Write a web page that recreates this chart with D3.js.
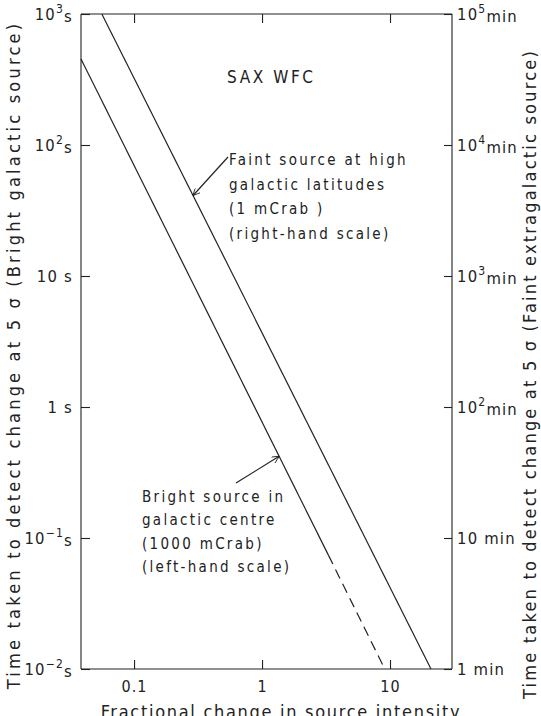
<!DOCTYPE html>
<html lang="en">
<meta charset="utf-8">
<style>
    html, body {
        margin: 0;
        padding: 0;
        background: #fff;
    }
    svg { display: block; }
    text {
        font-family: "DejaVu Sans Condensed", "DejaVu Sans", sans-serif;
        fill: #222;
    }
    .axis .domain, .axis .tick line {
        stroke: #222;
        stroke-width: 1.1px;
    }
    .curve {
        fill: none;
        stroke: #222;
        stroke-width: 1.2px;
    }
</style>
<body>
<svg id="svg" width="541" height="716"></svg>
<script src="https://cdn.jsdelivr.net/npm/d3@7/dist/d3.min.js"></script>
<script>
// fractional change in source intensity
var xTicks = [0.1, 1, 10];
var xTickLabels = ["0.1", "1", "10"];

// left-hand scale, seconds (bright galactic source)
var leftTicks = [1e-2, 1e-1, 1, 10, 1e2, 1e3];
var leftBase  = ["10", "10", "1", "10", "10", "10"];
var leftExp   = ["\u22122", "\u22121", "", "", "2", "3"];

// right-hand scale, minutes (faint extragalactic source)
var rightTicks = [1, 10, 1e2, 1e3, 1e4, 1e5];
var rightBase  = ["1", "10", "10", "10", "10", "10"];
var rightExp   = ["", "", "2", "3", "4", "5"];

// faint source at high galactic latitudes, right-hand scale (min)
var faintX = [0.056, 20.9];
var faintT = [1e5, 1];

// bright source in galactic centre, left-hand scale (s): solid, then dashed
var brightX = [0.0385, 3.3];
var brightT = [454, 0.074];
var brightDashX = [3.3, 9.1];
var brightDashT = [0.074, 0.01];

var faintNote = ["Faint source at high", "galactic latitudes", "(1 mCrab )", "(right-hand scale)"];
var brightNote = ["Bright source in", "galactic centre", "(1000 mCrab)", "(left-hand scale)"];

var svg = d3.select("svg"),
    margin = {left: 81, right: 452, top: 14, bottom: 669};

var x = d3.scaleLog().domain([0.0385, 30.5]).range([margin.left, margin.right]);
var yL = d3.scaleLog().domain([1e-2, 1e3]).range([margin.bottom, margin.top]);
var yR = d3.scaleLog().domain([1, 1e5]).range([margin.bottom, margin.top]);

// point on a straight log-log segment at abscissa xv
function onLine(xs, ts, xv) {
    var f = (Math.log(xv) - Math.log(xs[0])) / (Math.log(xs[1]) - Math.log(xs[0]));
    return Math.exp(Math.log(ts[0]) + f * (Math.log(ts[1]) - Math.log(ts[0])));
}

svg.append("defs").append("marker")
    .attr("id", "arrow")
    .attr("viewBox", "0 0 10 10")
    .attr("refX", 10).attr("refY", 5)
    .attr("markerWidth", 9).attr("markerHeight", 7)
    .attr("markerUnits", "userSpaceOnUse")
    .attr("orient", "auto")
    .append("path")
    .attr("d", "M0,0 L10,5 L0,10")
    .attr("fill", "none")
    .attr("stroke", "#222")
    .attr("stroke-width", 1.2);

// axes, all ticks pointing inward
svg.append("g").attr("class", "axis")
    .attr("transform", "translate(0," + margin.bottom + ")")
    .call(d3.axisBottom(x).tickValues(xTicks).tickSize(-9).tickPadding(12)
        .tickFormat((d, i) => xTickLabels[i]))
    .call(g => g.select(".domain").attr("d", "M" + margin.left + ",0H" + margin.right))
    .call(g => g.selectAll("text").attr("font-size", 16).attr("letter-spacing", 1).attr("fill", "#222"));

svg.append("g").attr("class", "axis")
    .attr("transform", "translate(0," + margin.top + ")")
    .call(d3.axisTop(x).tickValues(xTicks).tickSize(-9).tickFormat(""))
    .call(g => g.select(".domain").attr("d", "M" + margin.left + ",0H" + margin.right));

function powerLabels(g, base, exp, unit) {
    g.selectAll(".tick text").each(function(d, i) {
        var t = d3.select(this).text(null)
            .attr("font-size", 16.5).attr("letter-spacing", 1.2).attr("fill", "#222");
        t.append("tspan").text(base[i]);
        if (exp[i]) {
            t.append("tspan").attr("dy", "-0.55em").attr("font-size", 12).text(exp[i]);
            t.append("tspan").attr("dy", "0.55em").text(unit);
        } else {
            t.append("tspan").text(" " + unit);
        }
    });
}

svg.append("g").attr("class", "axis")
    .attr("transform", "translate(" + margin.left + ",0)")
    .call(d3.axisLeft(yL).tickValues(leftTicks).tickSize(-9).tickPadding(8))
    .call(g => g.select(".domain").attr("d", "M0," + margin.top + "V" + margin.bottom))
    .call(g => powerLabels(g, leftBase, leftExp, "s"));

svg.append("g").attr("class", "axis")
    .attr("transform", "translate(" + margin.right + ",0)")
    .call(d3.axisRight(yR).tickValues(rightTicks).tickSize(-8).tickPadding(5))
    .call(g => g.select(".domain").attr("d", "M0," + margin.top + "V" + margin.bottom))
    .call(g => powerLabels(g, rightBase, rightExp, "min"));

// curves
var lineR = d3.line().x(d => x(d[0])).y(d => yR(d[1]));
var lineL = d3.line().x(d => x(d[0])).y(d => yL(d[1]));

svg.append("path").attr("class", "curve")
    .attr("d", lineR(d3.zip(faintX, faintT)));
svg.append("path").attr("class", "curve")
    .attr("d", lineL(d3.zip(brightX, brightT)));
svg.append("path").attr("class", "curve")
    .attr("stroke-dasharray", "10,6")
    .attr("d", lineL(d3.zip(brightDashX, brightDashT)));

// titles and notes
svg.append("text")
    .attr("x", 227).attr("y", 83)
    .attr("font-size", 17).attr("letter-spacing", 2.6)
    .text("SAX WFC");

function note(lines, x0, y0, step) {
    var t = svg.append("text").attr("font-size", 15).attr("letter-spacing", 2.3);
    lines.forEach((s, i) => t.append("tspan").attr("x", x0).attr("y", y0 + i * step).text(s));
}
note(faintNote, 229, 165, 24.5);
note(brightNote, 142, 502, 23.3);

// arrows pointing at the curves
svg.append("line").attr("class", "curve")
    .attr("x1", 228).attr("y1", 157)
    .attr("x2", x(0.289)).attr("y2", yR(onLine(faintX, faintT, 0.289)))
    .attr("marker-end", "url(#arrow)");
svg.append("line").attr("class", "curve")
    .attr("x1", 236).attr("y1", 483)
    .attr("x2", x(1.36)).attr("y2", yL(onLine(brightX, brightT, 1.36)))
    .attr("marker-end", "url(#arrow)");

svg.append("text")
    .attr("x", 281).attr("y", 718)
    .attr("text-anchor", "middle")
    .attr("font-size", 18).attr("letter-spacing", 1.7)
    .text("Fractional change in source intensity");

svg.append("text")
    .attr("transform", "translate(20,355) rotate(-90)")
    .attr("text-anchor", "middle")
    .attr("font-size", 18).attr("letter-spacing", 3.2)
    .text("Time taken to detect change at 5 \u03c3 (Bright galactic source)");

svg.append("text")
    .attr("transform", "translate(536,374) rotate(-90)")
    .attr("text-anchor", "middle")
    .attr("font-size", 18).attr("letter-spacing", 2.2)
    .text("Time taken to detect change at 5 \u03c3 (Faint extragalactic source)");
</script>
</body>
</html>
